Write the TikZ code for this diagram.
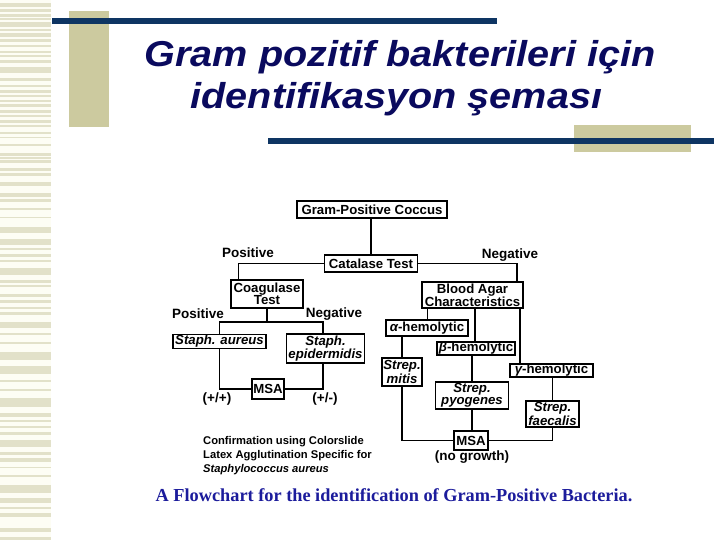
\documentclass[tikz,border=0pt]{standalone}
\usepackage{fontspec}
\setmainfont{Liberation Sans}
\newfontfamily\capserif{Liberation Serif}
\definecolor{lineblue}{HTML}{0E3563}
\definecolor{beige}{HTML}{CCCA9F}
\definecolor{titleblue}{HTML}{0A0A5E}
\definecolor{capblue}{HTML}{1C1C9C}
\definecolor{stripe}{HTML}{E2E1C9}
\definecolor{stripbg}{HTML}{FDFDF4}
\newcommand\boxfont{\fontsize{13.2}{12.3}\selectfont\bfseries}
\newcommand\lblfont{\fontsize{13.5}{14}\selectfont\bfseries}
\newcommand\conffont{\fontsize{11.2}{14}\selectfont\bfseries}
\newcommand\titlefont{\fontsize{36}{40}\selectfont\bfseries\itshape}
\tikzset{
  bx/.style={draw=black, line width=1.5pt, fill=white, inner sep=0pt, align=center, font=\boxfont},
  cn/.style={draw=black, line width=1.5pt},
  lbl/.style={inner sep=0pt, font=\lblfont},
  conf/.style={inner sep=0pt, font=\conffont, anchor=base west},
  ttl/.style={inner sep=0pt, font=\titlefont, text=titleblue, anchor=base, xscale=1.1},
}
\begin{document}
\begin{tikzpicture}[x=1pt, y=-1pt]
\useasboundingbox (0,0) rectangle (720,540);
\fill[white] (0,0) rectangle (720,540);
% left striped band
\fill[stripbg] (0,0) rectangle (51,540);
\foreach \a/\b in {3/7,9/12,14/17,18/20,22/27,29/31,33/37,39/42,45/47,51/53,55/57,60/63,67/73,78/81,85/87,90/93,95/97,100/102,104/107,110/113,115/117,120/123,125/127,132/134,137/138,144/146,153/156,157/159,160/163,168/171,173/176,182/186,193/197,199/202,208/210,217/218,227/233,239/245,248/250,254/257,260/262,268/275,280/283,285/287,294/297,300/303,307/309,312/315,322/328,333/335,342/344,352/360,366/374,380/382,389/391,398/407,413/417,420/422,426/428,432/435,440/447,452/455,458/462,467/468,475/477,485/493,498/503,507/509,513/517,528/532,537/540}
  \fill[stripe] (0,\a) rectangle (51,\b);
% decorative bars
\fill[beige] (69,11) rectangle (109,127);
\fill[lineblue] (52,18) rectangle (497,24);
\fill[beige] (574,125) rectangle (691,152);
\fill[lineblue] (268,138) rectangle (714,144);
% title
\node[ttl] (t1) at (400,67) {Gram pozitif bakterileri için};
\node[ttl] (t2) at (396.5,109) {identifikasyon şeması};
% boxes
\node[bx, minimum width=150pt, minimum height=17pt] (gpc) at (372,209.5) {Gram-Positive Coccus};
\node[bx, minimum width=93pt, minimum height=17pt] (cat) at (371,263.5) {Catalase Test};
\node[bx, minimum width=72pt, minimum height=28pt] (coag) at (267,294) {Coagulase\\Test};
\node[bx, minimum width=101pt, minimum height=26pt] (blood) at (472.5,295) {Blood Agar\\Characteristics};
\node[bx, minimum width=93pt, minimum height=14pt] (aureus) at (219.5,341.5) {\itshape Staph. aureus};
\node[bx, minimum width=78pt, minimum height=29pt] (epid) at (325.5,348.5) {\itshape Staph.\\\itshape epidermidis};
\node[bx, minimum width=32pt, minimum height=20pt] (msa1) at (268,389) {MSA};
\node[bx, minimum width=82pt, minimum height=16pt] (alpha) at (427,328) {{\itshape α}-hemolytic};
\node[bx, minimum width=78pt, minimum height=13pt] (beta) at (476,348.5) {{\itshape β}-hemolytic};
\node[bx, minimum width=83pt, minimum height=13pt] (gamma) at (551.5,370.5) {{\itshape γ}-hemolytic};
\node[bx, minimum width=40pt, minimum height=28pt] (mitis) at (402,372) {\itshape Strep.\\\itshape mitis};
\node[bx, minimum width=73pt, minimum height=27pt] (pyog) at (472,395.5) {\itshape Strep.\\\itshape pyogenes};
\node[bx, minimum width=53pt, minimum height=26pt] (faec) at (552.5,414) {\itshape Strep.\\\itshape faecalis};
\node[bx, minimum width=34pt, minimum height=19pt] (msa2) at (471,440.5) {MSA};
% helper coordinates
\coordinate (cl) at ([xshift=8pt]coag.north west);
\coordinate (cr) at ([xshift=-7pt]blood.north east);
\coordinate (cj) at (266,322);
\coordinate (ep) at ([xshift=-2.5pt]epid.north);
\coordinate (eps) at ([xshift=-2.5pt]epid.south);
\coordinate (ba) at ([xshift=6pt]blood.south west);
\coordinate (bb) at ([xshift=2.5pt]blood.south);
\coordinate (bg) at ([xshift=-4pt]blood.south east);
% connectors
\draw[cn] (gpc.south -| cat.north) -- (cat.north);
\draw[cn] (cat.west) -| (cl);
\draw[cn] (cat.east) -| (cr);
\draw[cn] (coag.south) -- (coag.south |- cj);
\draw[cn] (aureus.north) |- (cj) -| (ep);
\draw[cn] (aureus.south) |- (msa1.west);
\draw[cn] (eps) |- (msa1.east);
\draw[cn] (ba) -- (ba |- alpha.north);
\draw[cn] (bb) -- (bb |- beta.north);
\draw[cn] (bg) -- (bg |- gamma.north);
\draw[cn] (mitis.north) -- (mitis.north |- alpha.south);
\draw[cn] (pyog.north) -- (pyog.north |- beta.south);
\draw[cn] (faec.north) -- (faec.north |- gamma.south);
\draw[cn] (mitis.south) |- (msa2.west);
\draw[cn] (pyog.south) -- (pyog.south |- msa2.north);
\draw[cn] (faec.south) |- (msa2.east);
% labels
\node[lbl] (lp1) at (248,253) {Positive};
\node[lbl] (ln1) at (510,255) {Negative};
\node[lbl] (lp2) at (198,314) {Positive};
\node[lbl] (ln2) at (334,314) {Negative};
\node[lbl] (pp) at (217,399) {(+/+)};
\node[lbl] (pm) at (325,399) {(+/-)};
\node[lbl] (ng) at (472,457) {(no growth)};
\node[conf] (c1) at (203,444) {Confirmation using Colorslide};
\node[conf] (c2) at (203,458) {Latex Agglutination Specific for};
\node[conf] (c3) at (203,472) {\itshape Staphylococcus aureus};
\node[inner sep=0pt, font={\capserif\fontsize{18.3}{20}\selectfont\bfseries}, text=capblue] (cap) at (394,495) {A Flowchart for the identification of Gram-Positive Bacteria.};
\end{tikzpicture}
\end{document}
